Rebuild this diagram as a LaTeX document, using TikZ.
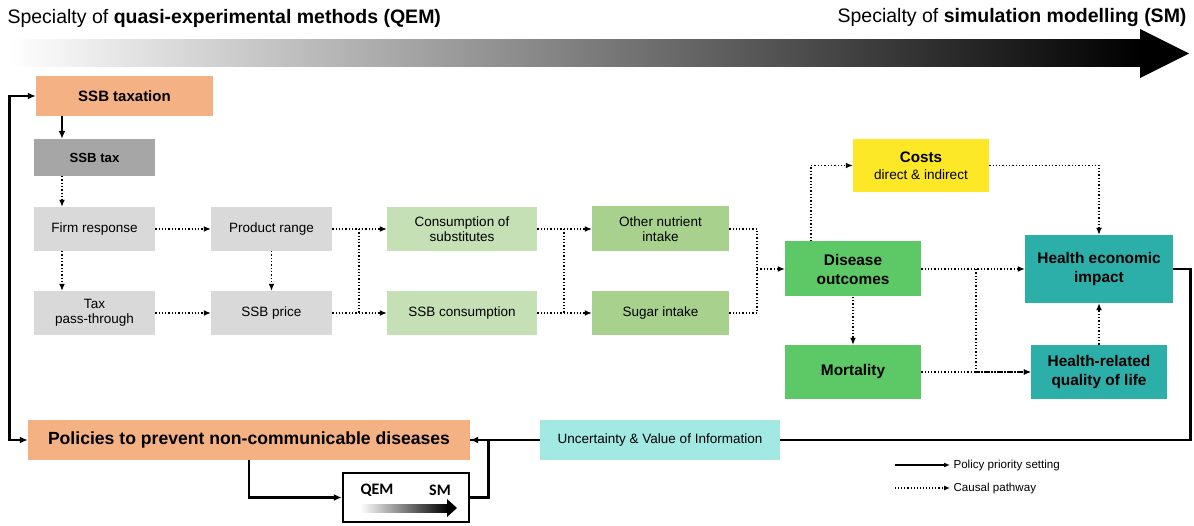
\documentclass[tikz,border=0pt]{standalone}
\usepackage{fontspec}
\setmainfont{Liberation Sans}
\newfontfamily\calib{Carlito}
\usetikzlibrary{arrows.meta}

\definecolor{salmon}{HTML}{F4B183}
\definecolor{taxgray}{HTML}{A6A6A6}
\definecolor{lightgray}{HTML}{D9D9D9}
\definecolor{palegreen}{HTML}{C5E0B4}
\definecolor{midgreen}{HTML}{A9D18E}
\definecolor{outgreen}{HTML}{5DC866}
\definecolor{costyellow}{HTML}{FCE826}
\definecolor{teal}{HTML}{2CAEA9}
\definecolor{paleteal}{HTML}{A2E8E3}

\tikzset{
  box/.style={inner sep=2pt, align=center, font=\fontsize{13.5}{15.5}\selectfont},
  boldbox/.style={box, font=\fontsize{15.4}{19}\selectfont\bfseries},
  causal/.style={line width=1.3pt, dotted, ->, >={Latex[length=7pt,width=6pt]}},
  policy/.style={line width=2.8pt, ->},
}

\begin{document}
\begin{tikzpicture}[x=1pt,y=-1pt,>={Latex[length=8pt,width=7pt]}]
  \useasboundingbox (0,0) rectangle (1194,526);
  % top gradient arrow
  \node[anchor=west, font=\fontsize{19.5}{22}\selectfont] (qemtitle) at (4,18) {Specialty of \textbf{quasi-experimental methods (QEM)}};
  \node[anchor=east, font=\fontsize{19.5}{22}\selectfont] (smtitle) at (1190,18) {Specialty of \textbf{simulation modelling (SM)}};
  \shade[left color=white, right color=black] (8,40) rectangle (1141,67);
  \fill[black] (1140,29) -- (1189,53.5) -- (1140,78) -- cycle;

  % nodes
  \node[box, fill=salmon, minimum width=177pt, minimum height=40pt, font=\fontsize{15}{17}\selectfont\bfseries] (taxation) at (124.5,96) {SSB taxation};
  \node[box, fill=taxgray, minimum width=121pt, minimum height=37pt, font=\fontsize{13.2}{16}\selectfont\bfseries] (ssbtax) at (94.5,157.5) {SSB tax};
  \node[box, fill=lightgray, minimum width=121pt, minimum height=44pt] (firm) at (94.5,229) {Firm response};
  \node[box, fill=lightgray, minimum width=121pt, minimum height=44pt] (pass) at (94.5,313) {Tax\\pass-through};
  \node[box, fill=lightgray, minimum width=121pt, minimum height=44pt] (range) at (271.5,229) {Product range};
  \node[box, fill=lightgray, minimum width=121pt, minimum height=44pt] (price) at (271.5,313) {SSB price};
  \node[box, fill=palegreen, minimum width=150pt, minimum height=44pt] (subst) at (462,229) {Consumption of\\substitutes};
  \node[box, fill=palegreen, minimum width=150pt, minimum height=44pt] (cons) at (462,313) {SSB consumption};
  \node[box, fill=midgreen, minimum width=137pt, minimum height=45pt] (nutrient) at (660.5,229) {Other nutrient\\intake};
  \node[box, fill=midgreen, minimum width=137pt, minimum height=44pt] (sugar) at (660.5,313) {Sugar intake};
  \node[box, fill=costyellow, minimum width=136pt, minimum height=53pt, font=\fontsize{13.6}{17}\selectfont] (costs) at (921,165.5) {{\fontsize{15.2}{18}\selectfont\bfseries Costs}\\direct \& indirect};
  \node[boldbox, fill=outgreen, minimum width=136pt, minimum height=55pt] (disease) at (853,269) {Disease\\outcomes};
  \node[boldbox, fill=outgreen, minimum width=136pt, minimum height=54pt] (mortality) at (853,372) {Mortality};
  \node[boldbox, fill=teal, minimum width=148pt, minimum height=68pt] (heimpact) at (1099,269) {Health economic\\impact};
  \node[boldbox, fill=teal, minimum width=136pt, minimum height=54pt] (hrqol) at (1099,372) {Health-related\\quality of life};
  \node[box, fill=salmon, minimum width=442pt, minimum height=40pt, font=\fontsize{17.6}{20}\selectfont\bfseries] (policies) at (249,440) {Policies to prevent non-communicable diseases};
  \node[box, fill=paleteal, minimum width=240pt, minimum height=40pt] (unc) at (660,440) {Uncertainty \& Value of Information};
  \node[draw, line width=2.5pt, minimum width=126pt, minimum height=49pt] (qem) at (406,497.5) {};
  \node[font=\calib\fontsize{16}{18}\selectfont\bfseries] (qemlbl) at (377,490) {QEM};
  \node[font=\calib\fontsize{16}{18}\selectfont\bfseries] (smlbl) at (440,490) {SM};
  \shade[left color=white, right color=black] (360,504) rectangle (448,512);
  \fill[black] (447,499) -- (457,508) -- (447,517) -- cycle;

  % policy priority setting
  \draw[policy, <->] (taxation.west) -- ++(-26,0) |- (policies.west);
  \coordinate (tx) at (62,0);
  \draw[policy] (taxation.south -| tx) -- (ssbtax.north -| tx);
  \draw[policy] (policies.south) |- (qem.west);
  \draw[policy, -] (qem.east) -- ++(18,0) |- (policies.east);
  \draw[policy] (unc.west) -- (policies.east);
  \draw[policy, -] (heimpact.east) -- ++(17,0) |- (unc.east);

  % causal pathway
  \draw[causal] (ssbtax.south -| tx) -- (firm.north -| tx);
  \draw[causal] (firm.south -| tx) -- (pass.north -| tx);
  \draw[causal] (firm) -- (range);
  \draw[causal] (pass) -- (price);
  \draw[causal] (range) -- (price);
  \draw[causal] (range) -- (subst);
  \draw[causal] (price) -- (cons);
  \coordinate (j1) at (359,0);
  \draw[causal, -] (range.east -| j1) -- (price.east -| j1);
  \draw[causal] (subst) -- (nutrient);
  \draw[causal] (cons) -- (sugar);
  \coordinate (j2) at (564,0);
  \draw[causal, -] (subst.east -| j2) -- (cons.east -| j2);
  \coordinate (j3) at (757,269);
  \draw[causal, -] (nutrient.east) -| (j3);
  \draw[causal, -] (sugar.east) -| (j3);
  \draw[causal] (j3) -- (disease.west);
  \draw[causal] ([xshift=-42pt]disease.north) |- (costs.west);
  \draw[causal] (costs.east) -| (heimpact.north);
  \draw[causal] (disease) -- (heimpact);
  \draw[causal] (disease) -- (mortality);
  \coordinate (j4) at (976,269);
  \draw[causal] (j4) |- (hrqol.west);
  \draw[causal] (mortality) -- (hrqol);
  \draw[causal] (hrqol) -- (heimpact);

  % legend
  \node[anchor=west, font=\fontsize{11.6}{14}\selectfont] (legpol) at (950,465) {Policy priority setting};
  \node[anchor=west, font=\fontsize{11.6}{14}\selectfont] (legcau) at (950,488) {Causal pathway};
  \coordinate (lp) at (895,465);
  \coordinate (lc) at (895,488);
  \draw[line width=1.4pt, ->, >={Latex[length=6pt,width=5pt]}] (lp) -- (legpol.west);
  \draw[line width=1.1pt, dotted, ->, >={Latex[length=6pt,width=5pt]}] (lc) -- (legcau.west);
\end{tikzpicture}
\end{document}
